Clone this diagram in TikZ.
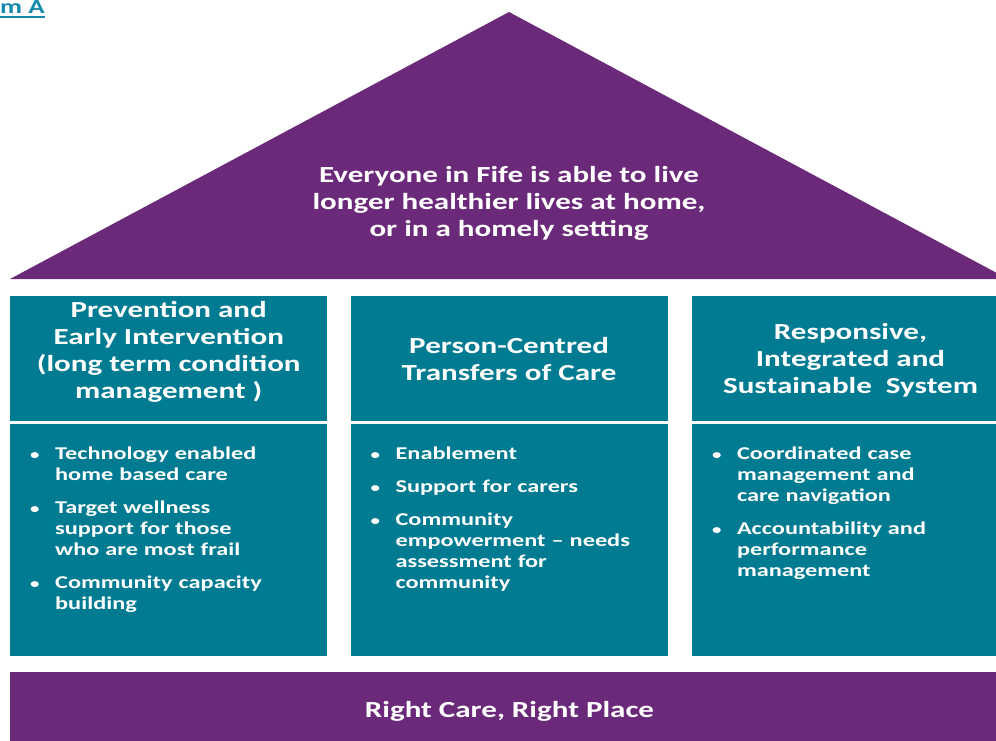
\documentclass[tikz,border=0pt]{standalone}
\usepackage{fontspec}
\usepackage{xcolor}
\usepackage{enumitem}
\usetikzlibrary{positioning}

\newfontfamily\housefont{Carlito}[FakeStretch=1.35, Ligatures=TeX]

\definecolor{roofpurple}{RGB}{107,41,122}
\definecolor{pillarteal}{RGB}{0,123,145}
\definecolor{titleblue}{RGB}{22,138,172}

\setlist[itemize]{label={\fontsize{14}{14}\selectfont\textbullet}, leftmargin=25pt, labelwidth=10pt, labelsep=15pt, align=left, itemsep=12pt, topsep=0pt, parsep=0pt, partopsep=0pt}

\begin{document}
\begin{tikzpicture}[x=1pt, y=-1pt]

\tikzset{
    box/.style = {
    minimum width = 317pt,
    inner sep = 0pt
    }
}

\tikzstyle{pillarhead}=[fill=pillarteal, box, minimum height=125pt]
\tikzstyle{pillar}=[fill=pillarteal, box, minimum height=232pt]
\tikzstyle{bigtext}=[text=white, align=center, font=\housefont\bfseries\fontsize{23}{27}\selectfont]
\tikzstyle{bullets}=[text=white, inner sep=0pt, anchor=north west, font=\housefont\bfseries\fontsize{18}{21}\selectfont]

\useasboundingbox (0,0) rectangle (996,740);
\clip (0,0) rectangle (996,740);

\node (title) [anchor=base west, inner sep=0pt, text=titleblue, font=\housefont\bfseries\fontsize{20}{24}\selectfont] at (0,13.5) {m A};
\draw[titleblue, line width=2.5pt] ([yshift=-3.5pt]title.base west) -- ([yshift=-3.5pt]title.base east);

% roof
\fill[roofpurple] (10,279) -- (509,12) -- (1008,279) -- cycle;
\node (roof) [bigtext] at (509,203) {Everyone in Fife is able to live\\ longer healthier lives at home,\\ or in a homely setting};

% pillars
\node (head-1) [pillarhead, anchor=north west] at (10,296) {};
\node (head-2) [pillarhead, right=23pt of head-1] {};
\node (head-3) [pillarhead, right=24pt of head-2] {};

\node [bigtext] at ([yshift=7pt]head-1.center) {Prevention and\\ Early Intervention\\ (long term condition\\ management )};
\node [bigtext] at (head-2.center) {Person-Centred\\ Transfers of Care};
\node [bigtext] at ([yshift=-2pt]head-3.center) {Responsive,\\ Integrated and\\ Sustainable\ \ System};

\node (body-1) [pillar, below=2pt of head-1] {};
\node (body-2) [pillar, below=2pt of head-2] {};
\node (body-3) [pillar, below=2pt of head-3] {};

\node (list-1) [bullets, text width=245pt] at ([shift={(20pt,-15pt)}]body-1.north west) {
\begin{itemize}
\item Technology enabled home based care
\item Target wellness support for those who are most frail
\item Community capacity building
\end{itemize}};

\node (list-2) [bullets, text width=265pt] at ([shift={(20pt,-15pt)}]body-2.north west) {
\begin{itemize}
\item Enablement
\item Support for carers
\item Community empowerment – needs assessment for community
\end{itemize}};

\node (list-3) [bullets, text width=230pt] at ([shift={(20pt,-15pt)}]body-3.north west) {
\begin{itemize}
\item Coordinated case management and care navigation
\item Accountability and performance management
\end{itemize}};

% base
\node (base) [bigtext, fill=roofpurple, minimum width=999pt, minimum height=79pt, inner sep=0pt] at (509.5,711.5) {Right Care, Right Place};

\end{tikzpicture}
\end{document}
